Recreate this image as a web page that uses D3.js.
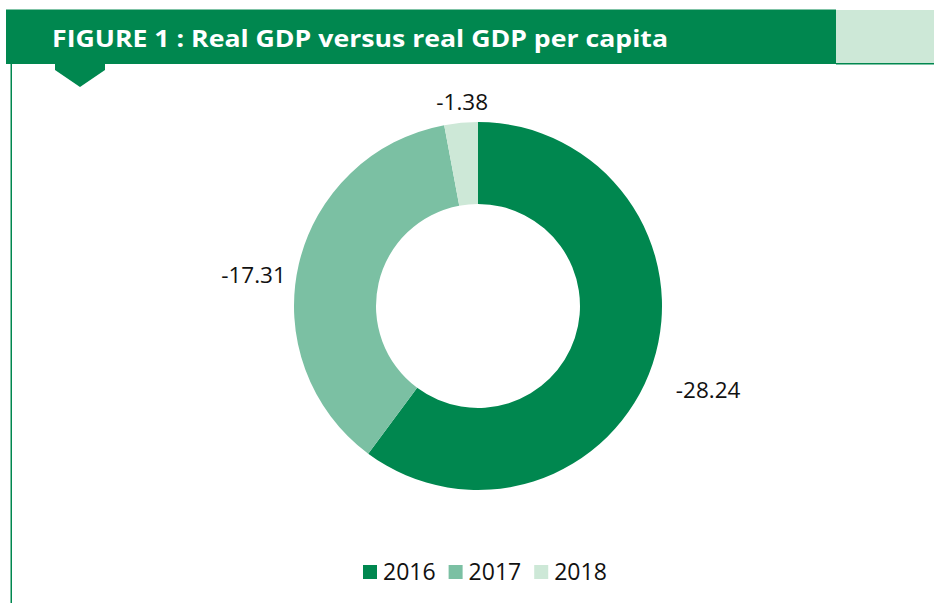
<!DOCTYPE html>
<html>
<head>
<meta charset="utf-8">
<script src="https://cdn.jsdelivr.net/npm/d3@7"></script>
<style>
  body { margin: 0; background: #fff; }
  svg { display: block; font-family: 'Open Sans', 'Noto Sans', sans-serif; }
</style>
</head>
<body>
<div id="chart"></div>
<script>
const years  = ['2016', '2017', '2018'];
const values = [-28.24, -17.31, -1.38];
const colors = ['#00874f', '#7bc0a3', '#cde8d7'];
const title  = 'FIGURE 1 : Real GDP versus real GDP per capita';

const width = 934, height = 603;
const cx = 478, cy = 306;
const outerR = 184, innerR = 102;
const labelR = 215;
// small per-label nudges, like Excel's best-fit placement
const nudges = [[26, 16], [-15, 17], [4, 10]];

const svg = d3.select('#chart').append('svg')
  .attr('width', width)
  .attr('height', height);

// header band
svg.append('rect')
  .attr('x', 6).attr('y', 9.5)
  .attr('width', 830).attr('height', 54.5)
  .attr('fill', '#00874f');
svg.append('rect')
  .attr('x', 836).attr('y', 10)
  .attr('width', 98).attr('height', 53)
  .attr('fill', '#cde8d7');
svg.append('rect')
  .attr('x', 836).attr('y', 63)
  .attr('width', 98).attr('height', 1.5)
  .attr('fill', '#00874f');

// left rule
svg.append('rect')
  .attr('x', 10.5).attr('y', 63)
  .attr('width', 1.5).attr('height', height - 63)
  .attr('fill', '#00874f');

// little pointer under the title
svg.append('path')
  .attr('d', 'M55,63 L105,63 L105,70 L80,87 L55,70 Z')
  .attr('fill', '#00874f');

svg.append('text')
  .attr('x', 52).attr('y', 47)
  .attr('fill', '#fff')
  .attr('font-size', 24)
  .attr('font-weight', 700)
  .attr('textLength', 616)
  .attr('lengthAdjust', 'spacingAndGlyphs')
  .text(title);

// donut
const data = years.map((y, i) => ({ year: y, value: values[i], color: colors[i] }));

const pie = d3.pie()
  .sort(null)
  .value(d => Math.abs(d.value));

const arc = d3.arc().innerRadius(innerR).outerRadius(outerR);
const labelArc = d3.arc().innerRadius(labelR).outerRadius(labelR);

const g = svg.append('g').attr('transform', `translate(${cx},${cy})`);
const arcs = pie(data);

g.selectAll('path.slice')
  .data(arcs)
  .join('path')
  .attr('class', 'slice')
  .attr('d', arc)
  .attr('fill', d => d.data.color);

const fmt = v => (v < 0 ? '-' : '') + d3.format('.2f')(Math.abs(v));

g.selectAll('text.lbl')
  .data(arcs)
  .join('text')
  .attr('class', 'lbl')
  .attr('transform', (d, i) => {
    const [x, y] = labelArc.centroid(d);
    return `translate(${x + nudges[i][0]},${y + nudges[i][1]})`;
  })
  .attr('text-anchor', 'middle')
  .attr('dominant-baseline', 'central')
  .attr('font-size', 22.5)
  .attr('fill', '#111')
  .text(d => fmt(d.data.value));

// legend
const legend = svg.append('g').attr('transform', 'translate(363,565)');
let lx = 0;
data.forEach(d => {
  const item = legend.append('g').attr('transform', `translate(${lx},0)`);
  item.append('rect')
    .attr('width', 14).attr('height', 14)
    .attr('fill', d.color);
  const t = item.append('text')
    .attr('x', 20).attr('y', 15)
    .attr('font-size', 23)
    .attr('fill', '#111')
    .text(d.year);
  lx += 20 + t.node().getComputedTextLength() + 13;
});
</script>
</body>
</html>
